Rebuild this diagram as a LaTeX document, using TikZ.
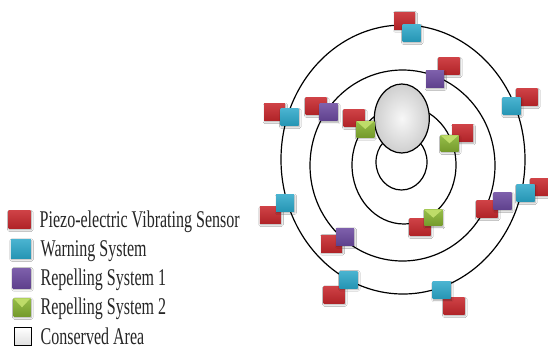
\documentclass[tikz,border=0pt]{standalone}
\usepackage{fontspec}
\newfontfamily\legendfont[FakeStretch=0.667]{Liberation Serif}
\usetikzlibrary{shadows.blur}
\definecolor{pzred}{RGB}{200,40,45}
\definecolor{wcyan}{RGB}{42,166,200}
\definecolor{rpurple}{RGB}{108,74,160}
\definecolor{rgreen}{RGB}{138,182,52}
\definecolor{rgreenl}{RGB}{190,220,105}
\tikzset{
  ring/.style={draw=black, line width=1.2pt},
  sqbase/.style={draw=none, inner sep=0pt, outer sep=0pt,
    blur shadow={shadow xshift=0.8pt, shadow yshift=-1.4pt, shadow blur steps=5, shadow opacity=35}},
  redsq/.style={sqbase, minimum width=21pt, minimum height=17pt,
    top color=pzred!88!white, bottom color=pzred!88!black},
  cyansq/.style={sqbase, minimum width=18pt, minimum height=17pt,
    top color=wcyan!85!white, bottom color=wcyan!90!black},
  purplesq/.style={sqbase, minimum width=18pt, minimum height=17pt,
    top color=rpurple!88!white, bottom color=rpurple!88!black},
  greensq/.style={sqbase, minimum width=18pt, minimum height=16pt,
    top color=rgreen!90!white, bottom color=rgreen!85!black,
    path picture={\fill[rgreenl] (path picture bounding box.north west) -- (path picture bounding box.north east) -- (path picture bounding box.center) -- cycle;}},
  graysq/.style={draw=black, line width=0.8pt, inner sep=0pt, minimum width=17pt, minimum height=18pt,
    top color=white, bottom color=gray!25},
  legtext/.style={anchor=base west, inner sep=0pt, font=\legendfont\fontsize{24}{28}\selectfont, text=black!85}
}
\begin{document}
\begin{tikzpicture}[x=1pt,y=-1pt]
\useasboundingbox (0,0) rectangle (548,348);
\fill[white] (0,0) rectangle (548,348);
% rings
\draw[ring] (403,159.5) ellipse [x radius=122pt, y radius=134.5pt];
\draw[ring] (402.5,165.5) ellipse [x radius=92.5pt, y radius=95.5pt];
\draw[ring] (404,165) ellipse [x radius=52pt, y radius=59pt];
\draw[ring] (401.5,162) ellipse [x radius=25.5pt, y radius=28pt];
% conserved area
\draw[ring, inner color=gray!6, outer color=gray!38] (401.8,118.5) ellipse [x radius=27.5pt, y radius=34.5pt];
% sensors (red)
\node[redsq] (r1) at (404.5,20.5) {};
\node[redsq] (r2) at (449,66) {};
\node[redsq] (r3) at (527,97) {};
\node[redsq] (r4) at (274.5,112) {};
\node[redsq] (r5) at (316,106) {};
\node[redsq] (r6) at (354,118) {};
\node[redsq] (r7) at (462.5,133.3) {};
\node[redsq] (r8) at (270.3,215) {};
\node[redsq] (r9) at (331.5,243.5) {};
\node[redsq] (r10) at (334,294.7) {};
\node[redsq] (r11) at (420,227) {};
\node[redsq] (r12) at (487,209) {};
\node[redsq] (r13) at (541,187) {};
\node[redsq] (r14) at (454,306) {};
% warning systems (cyan)
\node[cyansq] (c1) at (411.5,33) {};
\node[cyansq] (c2) at (511.7,106) {};
\node[cyansq] (c3) at (289.5,117) {};
\node[cyansq] (c4) at (285,203) {};
\node[cyansq] (c5) at (348.5,279.5) {};
\node[cyansq] (c6) at (525.5,193) {};
\node[cyansq] (c7) at (441.7,290.3) {};
% repelling system 1 (purple)
\node[purplesq] (p1) at (435,79) {};
\node[purplesq] (p2) at (328.7,112.3) {};
\node[purplesq] (p3) at (345,236.7) {};
\node[purplesq] (p4) at (502.7,201) {};
% repelling system 2 (green)
\node[greensq] (g1) at (365.3,129) {};
\node[greensq] (g2) at (449.5,143.3) {};
\node[greensq] (g3) at (433.3,217.7) {};
% legend
\node[redsq, minimum width=22pt, minimum height=18pt] (lr) at (19.5,219.5) {};
\node[cyansq, minimum width=20pt, minimum height=19pt] (lc) at (20.8,248.7) {};
\node[purplesq, minimum width=18pt, minimum height=20pt] (lp) at (21.7,278) {};
\node[greensq, minimum width=17pt, minimum height=18pt] (lg) at (22,307.3) {};
\node[graysq] (la) at (22.5,336.5) {};
\node[legtext] (lrt) at (39.5,227) {Piezo-electric Vibrating Sensor};
\node[legtext] (lct) at (40.5,256.3) {Warning System};
\node[legtext] (lpt) at (40.5,285.5) {Repelling System 1};
\node[legtext] (lgt) at (40.5,314.8) {Repelling System 2};
\node[legtext] (lat) at (40.5,344) {Conserved Area};
\end{tikzpicture}
\end{document}
